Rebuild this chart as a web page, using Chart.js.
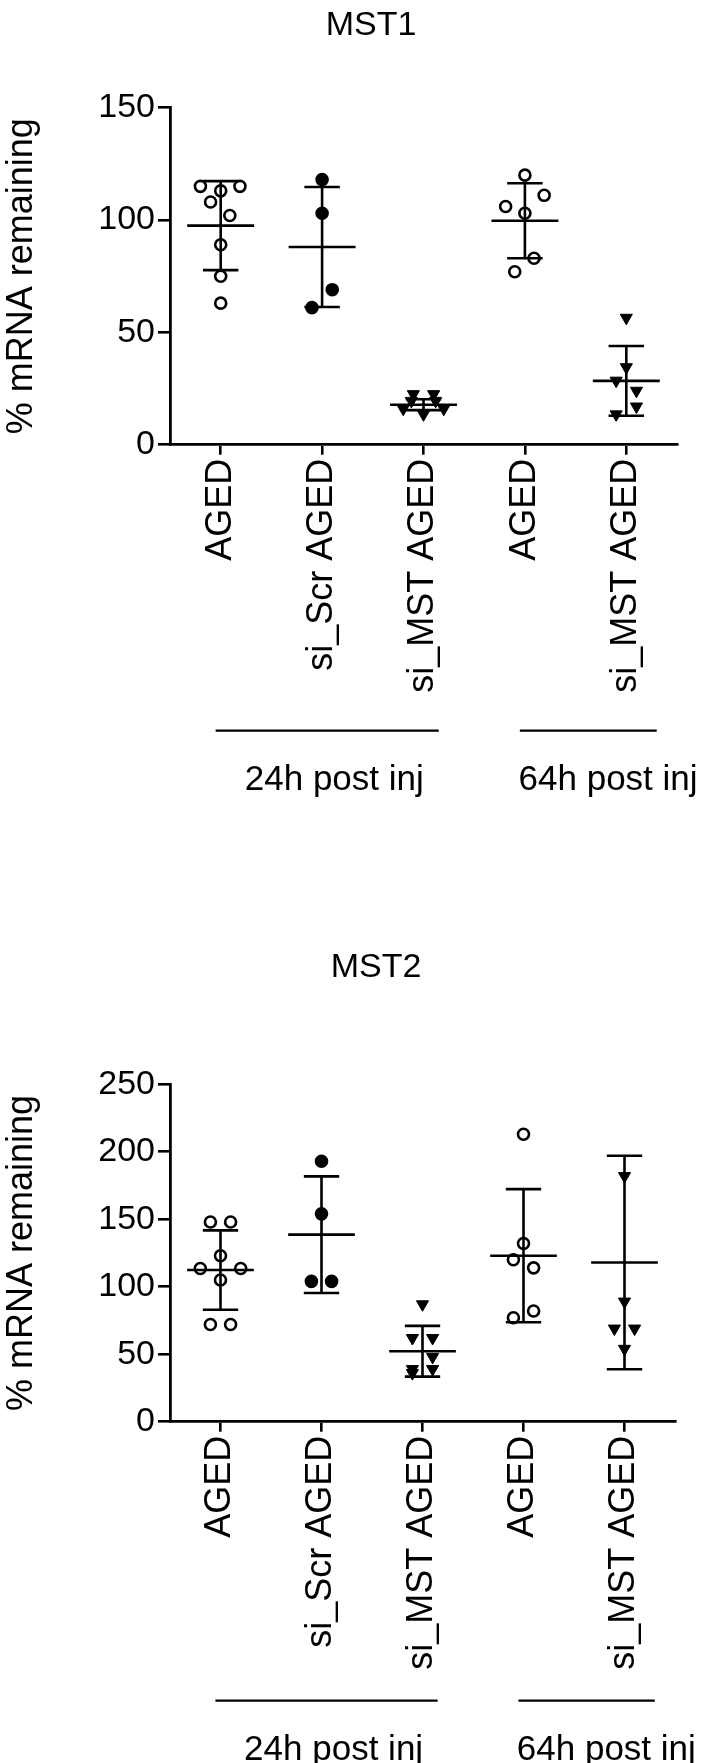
<!DOCTYPE html>
<html>
<head>
<meta charset="utf-8">
<script src="https://cdn.jsdelivr.net/npm/chart.js@4"></script>
<style>
  body { margin: 0; background: #fff; }
  canvas { display: block; }
</style>
</head>
<body>
<canvas id="mst1Chart" width="709" height="881"></canvas>
<canvas id="mst2Chart" width="709" height="882"></canvas>
<script>
const categories = ['AGED', 'si_Scr AGED', 'si_MST AGED', 'AGED', 'si_MST AGED'];
const groupLabels = ['24h post inj', '64h post inj'];

// MST1: individual animals per group, group mean and SD
const mst1Values = [
    [115, 115, 113, 108, 102, 89, 75, 63],
    [118, 103, 69, 61],
    [22.5, 22.5, 19.5, 19.5, 16, 16, 13.5],
    [120, 111, 106, 103, 83, 77],
    [56.5, 34.5, 28.5, 24, 17, 13.5]
];
const mst1Mean = [97.5, 88, 17.8, 99.7, 28.4];
const mst1Sd = [19.8, 26.7, 2.4, 16.7, 15.5];
const mst1Ticks = [0, 50, 100, 150];

// MST2
const mst2Values = [
    [148, 148, 123, 113.5, 113.5, 105, 72, 72],
    [193, 154, 104, 104],
    [87, 62, 62, 48, 39, 39, 36],
    [213, 132, 120, 114, 82, 77],
    [182, 89, 69, 69, 54]
];
const mst2Mean = [112.4, 138.6, 52.2, 123, 118];
const mst2Sd = [29.4, 43.2, 18.8, 49.3, 79.1];
const mst2Ticks = [0, 50, 100, 150, 200, 250];

// horizontal scatter of the dots (in category units)
const mst1Jitter = [
    [-0.2, 0.19, 0, -0.1, 0.09, 0, 0, 0],
    [0, 0, 0.1, -0.1],
    [-0.1, 0.1, -0.12, 0.12, -0.2, 0.2, 0],
    [0, 0.19, -0.19, 0, 0.09, -0.1],
    [0, 0, -0.1, 0.1, 0.1, -0.1]
];
const mst2Jitter = [
    [-0.1, 0.1, 0, -0.2, 0.2, 0, -0.1, 0.1],
    [0, 0, -0.1, 0.1],
    [0, -0.1, 0.1, 0.1, -0.1, 0.1, -0.1],
    [0, 0, -0.1, 0.1, 0.1, -0.1],
    [0, 0, -0.1, 0.1, 0]
];

const markers = ['open', 'filled', 'triangle', 'open', 'triangle'];
const groupFrom = [-0.05, 2.95];
const groupTo = [2.15, 4.3];
const groupTextAt = [1.12, 3.82];

const FONT = "'Liberation Sans', Arial, sans-serif";
const LINE = 2.6;

function markerStyle(kind) {
    if (kind === 'triangle') {
        return { pointStyle: 'triangle', rotation: 180, radius: 7, backgroundColor: '#000', borderColor: '#000', borderWidth: 1 };
    }
    return {
        pointStyle: 'circle', radius: 5.5, borderWidth: 2.6, borderColor: '#000',
        backgroundColor: kind === 'filled' ? '#000' : '#fff'
    };
}

function makeDecorations(cfg) {
    return {
        id: 'decorations',
        afterDatasetsDraw(chart) {
            const { ctx, chartArea } = chart;
            const x = chart.scales.x, y = chart.scales.y;
            const step = x.getPixelForValue(1) - x.getPixelForValue(0);
            ctx.save();
            ctx.strokeStyle = '#000';
            ctx.lineWidth = LINE;
            // mean and SD bars
            cfg.mean.forEach((m, i) => {
                const cx = x.getPixelForValue(i);
                const top = y.getPixelForValue(m + cfg.sd[i]);
                const bot = y.getPixelForValue(m - cfg.sd[i]);
                const my = y.getPixelForValue(m);
                ctx.beginPath();
                ctx.moveTo(cx, top); ctx.lineTo(cx, bot);
                ctx.moveTo(cx - step * 0.175, top); ctx.lineTo(cx + step * 0.175, top);
                ctx.moveTo(cx - step * 0.175, bot); ctx.lineTo(cx + step * 0.175, bot);
                ctx.moveTo(cx - step * 0.33, my); ctx.lineTo(cx + step * 0.33, my);
                ctx.stroke();
            });
            // title
            ctx.fillStyle = '#000';
            ctx.font = '34px ' + FONT;
            ctx.textAlign = 'center';
            ctx.textBaseline = 'alphabetic';
            ctx.fillText(cfg.title, cfg.titleX, cfg.titleY);
            // group brackets
            const ly = chartArea.bottom + cfg.lineDrop;
            ctx.lineWidth = 2.2;
            groupLabels.forEach((label, g) => {
                ctx.beginPath();
                ctx.moveTo(x.getPixelForValue(groupFrom[g]), ly);
                ctx.lineTo(x.getPixelForValue(groupTo[g]), ly);
                ctx.stroke();
                ctx.font = '35px ' + FONT;
                ctx.fillText(label, x.getPixelForValue(groupTextAt[g]), ly + 59);
            });
            ctx.restore();
        }
    };
}

function buildChart(id, cfg) {
    const datasets = cfg.values.map((vals, i) => {
        const s = markerStyle(markers[i]);
        return {
            data: vals.map((v, k) => ({ x: i + cfg.jitter[i][k], y: v })),
            pointStyle: s.pointStyle,
            pointRotation: s.rotation || 0,
            pointRadius: s.radius,
            pointHoverRadius: s.radius,
            pointBackgroundColor: s.backgroundColor,
            pointBorderColor: s.borderColor,
            pointBorderWidth: s.borderWidth,
            showLine: false,
            clip: false
        };
    });

    return new Chart(document.getElementById(id), {
        type: 'scatter',
        data: { datasets },
        plugins: [makeDecorations(cfg)],
        options: {
            responsive: false,
            animation: false,
            events: [],
            layout: { padding: { top: cfg.top, right: cfg.right, left: 0, bottom: 0 } },
            plugins: { legend: { display: false }, tooltip: { enabled: false } },
            scales: {
                x: {
                    type: 'linear',
                    min: -0.5,
                    max: 4.5,
                    afterBuildTicks: (s) => { s.ticks = categories.map((_, i) => ({ value: i })); },
                    afterFit: (s) => { s.height = cfg.xHeight; },
                    ticks: {
                        callback: (v) => categories[v],
                        autoSkip: false,
                        minRotation: 90,
                        maxRotation: 90,
                        padding: 4,
                        color: '#000',
                        font: { family: FONT, size: 36 }
                    },
                    grid: { drawOnChartArea: false, tickLength: 10, color: '#000', lineWidth: LINE },
                    border: { color: '#000', width: 2.8 }
                },
                y: {
                    min: 0,
                    max: cfg.ticks[cfg.ticks.length - 1],
                    afterBuildTicks: (s) => { s.ticks = cfg.ticks.map(v => ({ value: v })); },
                    afterFit: (s) => { s.width = 170; },
                    ticks: { color: '#000', padding: 3, font: { family: FONT, size: 34 } },
                    grid: { drawOnChartArea: false, tickLength: 12, color: '#000', lineWidth: LINE },
                    border: { color: '#000', width: 2.8 },
                    title: {
                        display: true,
                        text: '% mRNA remaining',
                        color: '#000',
                        padding: 0,
                        font: { family: FONT, size: 36 }
                    }
                }
            }
        }
    });
}

buildChart('mst1Chart', {
    values: mst1Values, jitter: mst1Jitter, mean: mst1Mean, sd: mst1Sd, ticks: mst1Ticks,
    title: 'MST1', titleX: 371, titleY: 35,
    top: 107.7, right: 32, xHeight: 881 - 444.7, lineDrop: 286
});

buildChart('mst2Chart', {
    values: mst2Values, jitter: mst2Jitter, mean: mst2Mean, sd: mst2Sd, ticks: mst2Ticks,
    title: 'MST2', titleX: 376, titleY: 96,
    top: 203.3, right: 34, xHeight: 882 - 540.7, lineDrop: 279
});
</script>
</body>
</html>
